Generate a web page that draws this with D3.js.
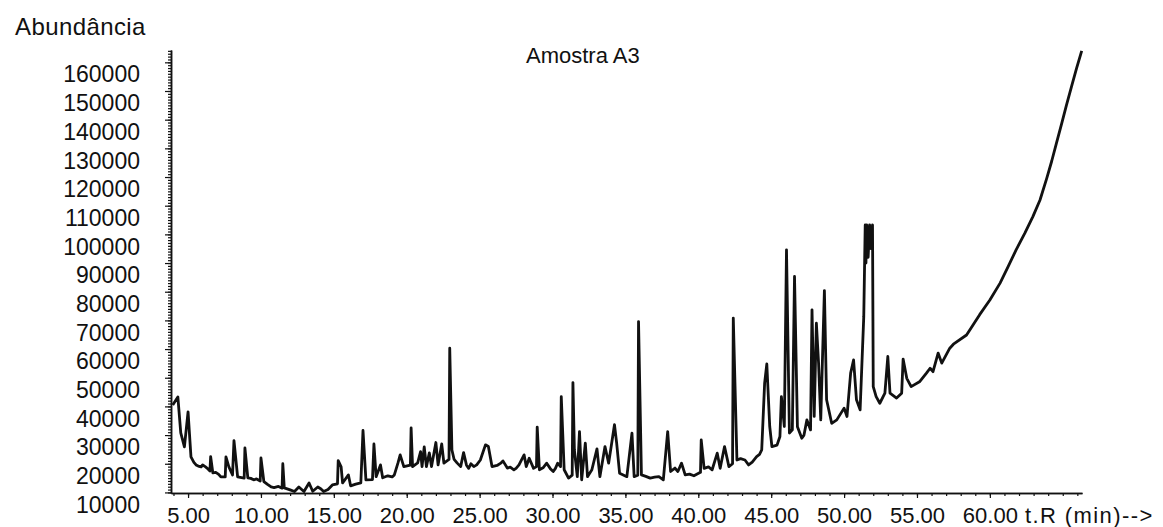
<!DOCTYPE html>
<html>
<head>
<meta charset="utf-8">
<script src="https://cdn.jsdelivr.net/npm/d3@7"></script>
<style>
  body { margin: 0; background: #fff; }
  text { font-family: "Liberation Sans", Arial, sans-serif; fill: #111; }
</style>
</head>
<body>
<svg id="chart" width="1163" height="527"></svg>
<script>
/* chart data */
var title = "Amostra A3";
var yTitle = "Abundância";
var xTitle = "t.R (min)-->";

var xTicks = [5, 10, 15, 20, 25, 30, 35, 40, 45, 50, 55, 60];
var xTickLabels = ["5.00", "10.00", "15.00", "20.00", "25.00", "30.00", "35.00", "40.00", "45.00", "50.00", "55.00", "60.00"];
var yTicks = [10000, 20000, 30000, 40000, 50000, 60000, 70000, 80000, 90000, 100000, 110000, 120000, 130000, 140000, 150000, 160000];

// [retention time (min), abundance]
var trace = [
  [3.95, 40500], [4.3, 43300], [4.5, 30800], [4.75, 25900], [5.0, 38100], [5.2, 22400], [5.4, 20500], [5.55, 19600],
  [5.7, 19200], [5.9, 18900], [6.0, 19600], [6.2, 18900], [6.3, 18500], [6.5, 17500], [6.55, 22500], [6.7, 16800],
  [6.9, 17000], [7.1, 16300], [7.25, 15400], [7.55, 15400], [7.6, 22400], [7.8, 18900], [8.05, 16100], [8.15, 28100],
  [8.4, 15400], [8.85, 15000], [8.9, 25500], [9.1, 15100], [9.3, 14900], [9.5, 14400], [9.7, 14700], [9.95, 14000],
  [10.0, 22000], [10.2, 13800], [10.45, 12800], [10.7, 11900], [10.9, 11700], [11.2, 12100], [11.45, 11500], [11.5, 20000],
  [11.6, 11600], [12.0, 10900], [12.3, 10300], [12.6, 11900], [12.95, 10300], [13.3, 13300], [13.55, 10400], [13.9, 11900],
  [14.1, 11300], [14.3, 10300], [14.6, 11000], [14.9, 12600], [15.25, 13000], [15.3, 21100], [15.5, 18900], [15.6, 13300],
  [16.0, 16100], [16.15, 12300], [16.5, 12900], [16.85, 13300], [17.0, 31600], [17.2, 14400], [17.65, 14500], [17.75, 26900],
  [17.9, 15500], [18.2, 19600], [18.35, 15100], [18.7, 15800], [19.0, 15400], [19.15, 16100], [19.4, 20300], [19.55, 23100],
  [19.8, 19000], [20.25, 19500], [20.3, 32500], [20.4, 19000], [20.75, 20300], [20.95, 24200], [21.05, 19000], [21.2, 25900],
  [21.35, 19000], [21.55, 23800], [21.7, 19000], [22.0, 27400], [22.15, 19600], [22.4, 26900], [22.55, 20200], [22.9, 21500],
  [22.95, 60300], [23.1, 24800], [23.25, 21500], [23.45, 20300], [23.7, 19000], [23.9, 23900], [24.1, 19500], [24.25, 18400],
  [24.4, 20000], [24.6, 19000], [24.8, 19600], [25.05, 21300], [25.4, 26600], [25.6, 26000], [25.85, 19000], [26.2, 19400],
  [26.45, 20200], [26.6, 21000], [26.9, 18500], [27.1, 18800], [27.35, 17900], [27.5, 18400], [27.7, 19600], [28.05, 23100],
  [28.2, 19000], [28.4, 21900], [28.7, 18400], [28.9, 19000], [28.95, 32800], [29.1, 17900], [29.35, 18600], [29.6, 20200],
  [29.85, 18300], [30.05, 17300], [30.2, 18400], [30.35, 20200], [30.55, 19000], [30.6, 43400], [30.8, 17900], [31.1, 15000],
  [31.35, 16000], [31.4, 48300], [31.5, 24800], [31.7, 15500], [31.85, 31200], [32.0, 14400], [32.25, 27200], [32.4, 15500],
  [32.7, 17900], [33.05, 25200], [33.25, 15500], [33.6, 26000], [33.85, 20200], [34.25, 33600], [34.4, 27200], [34.6, 16700],
  [35.1, 15500], [35.45, 30700], [35.6, 15500], [35.85, 16000], [35.9, 69600], [36.1, 16100], [36.4, 15600], [36.7, 15000],
  [37.0, 15300], [37.3, 15500], [37.6, 14400], [37.9, 31200], [38.1, 17300], [38.4, 18500], [38.6, 17300], [38.85, 20200],
  [39.1, 16100], [39.4, 16400], [39.7, 15800], [40.15, 17000], [40.2, 28300], [40.4, 18400], [40.7, 18900], [40.95, 17900],
  [41.3, 23700], [41.5, 18400], [41.8, 26000], [42.1, 19000], [42.35, 20000], [42.4, 70800], [42.65, 21300], [42.9, 21800],
  [43.2, 21300], [43.45, 19600], [43.7, 20600], [44.0, 22500], [44.2, 23300], [44.35, 24800], [44.55, 48100], [44.7, 54800],
  [44.9, 33000], [45.05, 26000], [45.4, 26500], [45.6, 29500], [45.7, 43400], [45.9, 33000], [46.05, 94600], [46.25, 30700],
  [46.45, 31800], [46.6, 85300], [46.8, 32900], [47.1, 28900], [47.25, 30000], [47.45, 35300], [47.7, 31800], [47.8, 73700],
  [47.95, 36500], [48.1, 69000], [48.25, 55100], [48.4, 35300], [48.65, 80400], [48.8, 42300], [49.15, 34100], [49.5, 35300],
  [50.0, 39400], [50.2, 36500], [50.45, 51600], [50.65, 56200], [50.85, 42300], [51.1, 38800], [51.35, 71300], [51.45, 103300],
  [51.5, 90000], [51.55, 103300], [51.65, 92000], [51.75, 103300], [51.85, 95000], [51.95, 103300], [52.0, 46900], [52.2, 43400],
  [52.45, 41100], [52.8, 44600], [53.0, 57400], [53.15, 44600], [53.6, 42900], [53.95, 44600], [54.05, 56500], [54.3, 49800],
  [54.6, 46900], [55.2, 48700], [55.65, 51600], [55.9, 53300], [56.1, 52100], [56.45, 58600], [56.7, 55100], [57.25, 60300],
  [57.5, 61700], [58.4, 64900], [59.3, 72000], [60.0, 77100], [60.7, 83000], [61.26, 88800], [61.8, 94600], [62.4, 100400],
  [62.95, 106200], [63.44, 112000], [63.9, 119500], [64.24, 125500], [64.55, 131500], [64.92, 138500], [65.25, 145000], [65.6, 151500],
  [65.95, 158000], [66.3, 164000]
];

/* layout */
var svg = d3.select("#chart");
var x = d3.scaleLinear().domain([3.83, 66.32]).range([171, 1082]);
var y = d3.scaleLinear().domain([9800, 164300]).range([493, 50]);

// y axis: minor ticks every 1000, major every 10000
var yMinor = svg.append("g").attr("transform", "translate(171,0)")
  .call(d3.axisLeft(y).tickValues(d3.range(10000, 164001, 1000)).tickSize(3).tickSizeOuter(0).tickFormat(""));
var yAxis = svg.append("g").attr("transform", "translate(171,0)")
  .call(d3.axisLeft(y).tickValues(yTicks).tickSize(6).tickSizeOuter(0).tickFormat(d3.format("d")));

// x axis: minor ticks every minute
var xMinor = svg.append("g").attr("transform", "translate(0,493)")
  .call(d3.axisBottom(x).tickValues(d3.range(4, 67, 1)).tickSize(3).tickSizeOuter(0).tickFormat(""));
var xAxis = svg.append("g").attr("transform", "translate(0,493)")
  .call(d3.axisBottom(x).tickValues(xTicks).tickSize(5).tickSizeOuter(0)
    .tickFormat(function(d, i) { return xTickLabels[i]; }));

svg.selectAll(".domain").attr("stroke", "#111").attr("stroke-width", 1.5);
svg.selectAll(".tick line").attr("stroke", "#111").attr("stroke-width", 1.2);

yAxis.selectAll("text")
  .attr("x", -31).attr("y", 11.6).attr("dy", "0.35em")
  .style("font-size", "23px").attr("fill", "#111");
xAxis.selectAll("text")
  .attr("y", 30).attr("dy", 0)
  .style("font-size", "22px").attr("fill", "#111");

svg.append("text").attr("x", 1025).attr("y", 523)
  .style("font-size", "22px").style("letter-spacing", "1.4px").text(xTitle);
svg.append("text").attr("x", 15).attr("y", 35)
  .style("font-size", "24px").style("letter-spacing", "0.4px").text(yTitle);
svg.append("text").attr("x", 526).attr("y", 63)
  .style("font-size", "22px").text(title);

// the chromatogram trace
var line = d3.line()
  .x(function(d) { return x(d[0]); })
  .y(function(d) { return y(d[1]); });

svg.append("path")
  .datum(trace)
  .attr("fill", "none")
  .attr("stroke", "#111")
  .attr("stroke-width", 2.8)
  .attr("stroke-linejoin", "round")
  .attr("d", line);
</script>
</body>
</html>
